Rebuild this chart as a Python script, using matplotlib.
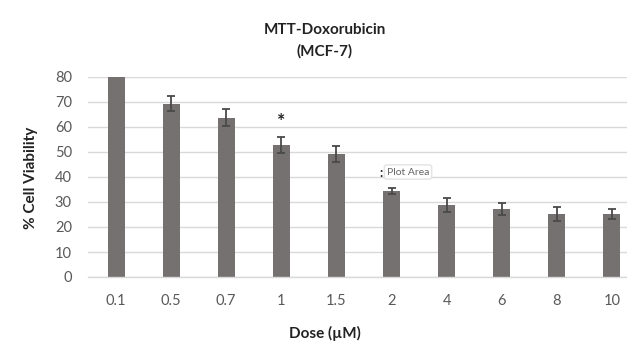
import matplotlib
matplotlib.use("Agg")
import matplotlib.pyplot as plt
import numpy as np

doses = ["0.1", "0.5", "0.7", "1", "1.5", "2", "4", "6", "8", "10"]
viability = [100, 69.2, 63.7, 52.8, 49.1, 34.3, 28.7, 27.3, 25.2, 25.2]
errors = [0, 3.0, 3.3, 3.1, 3.2, 1.2, 2.9, 2.4, 2.8, 1.9]
yticks = [0, 10, 20, 30, 40, 50, 60, 70, 80]

plt.rcParams['font.family'] = ['Lato', 'DejaVu Sans']

fig = plt.figure(figsize=(6.27, 3.43), dpi=100)
W, H = 627, 343
ax = fig.add_axes([88.5 / W, 1 - 277 / H, 551 / W, 200 / H])

x = np.arange(len(doses))
ax.bar(x, viability, width=0.31, color="#767171", zorder=2)
ax.errorbar(x[1:], viability[1:], yerr=errors[1:], fmt="none", ecolor="#4a4a4a",
            elinewidth=1.3, capsize=3, capthick=1.3, zorder=3)

ax.set_xlim(-0.5, len(doses) - 0.5)
ax.set_ylim(0, 80)
ax.set_yticks(yticks)
ax.set_xticks(x)
ax.set_xticklabels(doses)
ax.grid(axis="y", color="#d9d9d9", linewidth=1, zorder=0)
for s in ["top", "right", "left"]:
    ax.spines[s].set_visible(False)
ax.spines["bottom"].set_color("#d9d9d9")
ax.spines["bottom"].set_linewidth(1)
ax.tick_params(axis="both", length=0, labelsize=10.5, colors="#595959")
ax.tick_params(axis="x", pad=12)
ax.tick_params(axis="y", pad=12)

ax.text(3, 62, "*", ha="center", va="center", fontsize=14, fontweight="bold", color="#222222")

fig.text(325 / W, 1 - 30 / H, "MTT-Doxorubicin", ha="center", va="center",
         fontsize=11, fontweight="bold", color="#222222")
fig.text(325 / W, 1 - 51 / H, "(MCF-7)", ha="center", va="center",
         fontsize=11, fontweight="bold", color="#222222")
fig.text(325 / W, 1 - 333 / H, "Dose (µM)", ha="center", va="center",
         fontsize=11, fontweight="bold", color="#222222")
fig.text(31 / W, 1 - 178 / H, "% Cell Viability", ha="center", va="center",
         rotation=90, fontsize=11, fontweight="bold", color="#222222")

# Excel tooltip present in the screenshot
fig.text(381 / W, 1 - 173 / H, ":", ha="center", va="center", fontsize=9,
         fontweight="bold", color="#222222")
fig.text(408 / W, 1 - 172 / H, "Plot Area", ha="center", va="center", fontsize=7.5,
         color="#666666",
         bbox=dict(boxstyle="round,pad=0.25", fc="white", ec="#dddddd", lw=0.8))

fig.savefig("out.png", dpi=100)
